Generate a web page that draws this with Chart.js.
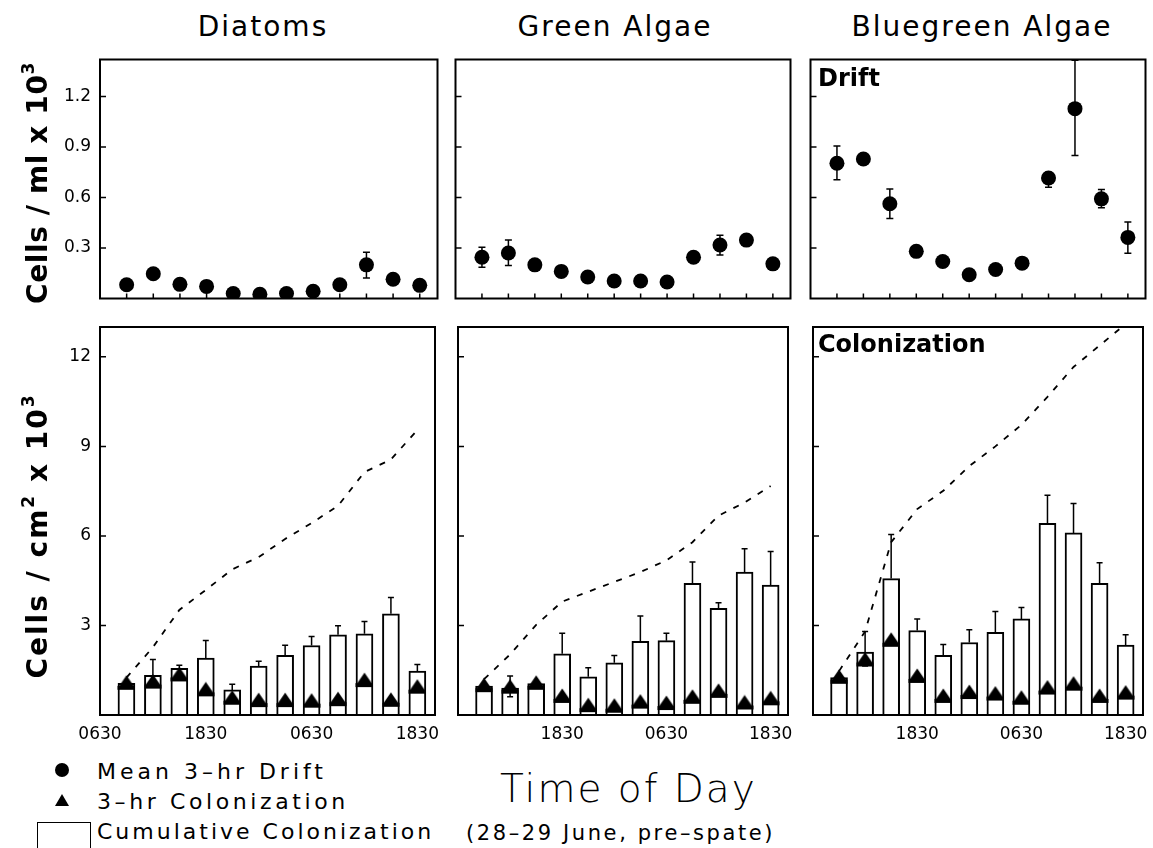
<!DOCTYPE html>
<html><head><meta charset="utf-8">
<script src="https://cdn.jsdelivr.net/npm/chart.js@4.4.1/dist/chart.umd.min.js"></script>
<style>
html,body{margin:0;padding:0;background:#fff;}
body{width:1153px;height:848px;position:relative;overflow:hidden;font-family:"DejaVu Sans",sans-serif;color:#000;}
canvas{position:absolute;}
.t{position:absolute;white-space:nowrap;line-height:1;}
.title{font-size:28px;letter-spacing:2px;width:300px;text-align:center;}
.ytitle{font-size:28px;font-weight:bold;transform:translate(-50%,-50%) rotate(-90deg);}
.ytitle sup{font-size:17px;vertical-align:0;position:relative;top:-13px;}
.leg{font-size:22px;letter-spacing:3px;}
</style></head><body>

<canvas id="c0"></canvas><canvas id="c1"></canvas><canvas id="c2"></canvas>
<canvas id="c3"></canvas><canvas id="c4"></canvas><canvas id="c5"></canvas>

<div class="t title" style="left:113px;top:13px;">Diatoms</div>
<div class="t title" style="left:465px;top:13px;">Green Algae</div>
<div class="t title" style="left:832px;top:13px;">Bluegreen Algae</div>
<div class="t" style="left:818px;top:66px;font-size:24px;font-weight:bold;">Drift</div>
<div class="t" style="left:818px;top:332px;font-size:24px;font-weight:bold;">Colonization</div>
<div class="t ytitle" style="left:38px;top:183px;letter-spacing:0.6px;">Cells / ml x 10<sup>3</sup></div>
<div class="t ytitle" style="left:38px;top:536px;letter-spacing:2px;">Cells / cm<sup>2</sup> x 10<sup>3</sup></div>
<div class="t" style="left:500px;top:769px;font-size:39px;font-weight:300;letter-spacing:2px;">Time of Day</div>
<div class="t" style="left:466px;top:823px;font-size:21px;letter-spacing:2.6px;">(28–29 June, pre–spate)</div>

<div style="position:absolute;left:55px;top:763px;width:14px;height:14px;border-radius:50%;background:#000;"></div>
<div style="position:absolute;left:55px;top:794px;width:14px;height:12px;background:#000;clip-path:polygon(50% 0,100% 100%,0 100%);"></div>
<div style="position:absolute;left:37px;top:822px;width:54px;height:40px;border:1.5px solid #000;box-sizing:border-box;"></div>
<div class="t leg" style="left:97px;top:761px;letter-spacing:4px;">Mean 3–hr Drift</div>
<div class="t leg" style="left:97px;top:791px;letter-spacing:3.6px;">3–hr Colonization</div>
<div class="t leg" style="left:97px;top:821px;">Cumulative Colonization</div>

<script>
// ---------- data ----------
const hours = [3, 6, 9, 12, 15, 18, 21, 24, 27, 30, 33, 36];
const xTickHours = [0, 12, 24, 36];
const xTickLabels = ['0630', '1830', '0630', '1830'];
const driftTicks = [0.3, 0.6, 0.9, 1.2];
const driftTickLabels = ['0.3', '0.6', '0.9', '1.2'];
const colonTicks = [3, 6, 9, 12];
const colonTickLabels = ['3', '6', '9', '12'];

// Mean 3-hr drift (cells/ml x 10^3)
const diatomDrift   = [0.082, 0.147, 0.084, 0.072, 0.030, 0.025, 0.030, 0.043, 0.082, 0.200, 0.114, 0.078];
const diatomDriftHi = [null, null, null, null, null, null, null, null, null, 0.275, null, null];
const diatomDriftLo = [null, null, null, null, null, null, null, null, null, 0.122, null, null];
const greenDrift    = [0.245, 0.270, 0.200, 0.161, 0.128, 0.104, 0.104, 0.098, 0.245, 0.318, 0.347, 0.206];
const greenDriftHi  = [0.304, 0.347, null, null, null, null, null, null, null, 0.376, null, null];
const greenDriftLo  = [0.186, 0.196, null, null, null, null, null, null, null, 0.259, null, null];
const blueDrift     = [0.804, 0.829, 0.563, 0.280, 0.220, 0.141, 0.172, 0.210, 0.716, 1.128, 0.592, 0.363];
const blueDriftHi   = [0.906, null, 0.651, null, null, null, null, null, 0.749, 1.416, 0.647, 0.455];
const blueDriftLo   = [0.706, null, 0.475, null, null, null, null, null, 0.661, 0.849, 0.539, 0.269];

// Colonization bars (cells/cm2 x 10^3)
const diatomBar   = [1.06, 1.33, 1.56, 1.91, 0.84, 1.64, 2.00, 2.33, 2.69, 2.72, 3.39, 1.47];
const diatomBarHi = [null, 1.86, 1.67, 2.50, 1.03, 1.80, 2.34, 2.63, 2.99, 3.13, 3.94, 1.69];
const diatomBarLo = [null, null, null, null, null, null, null, null, null, null, null, null];
const greenBar    = [0.97, 0.90, 1.05, 2.05, 1.28, 1.75, 2.47, 2.49, 4.41, 3.57, 4.79, 4.35];
const greenBarHi  = [null, 1.31, null, 2.74, 1.58, 1.99, 3.32, 2.74, 5.13, 3.76, 5.57, 5.48];
const greenBarLo  = [null, 0.61, null, null, null, null, null, null, null, null, null, null];
const blueBar     = [1.25, 2.11, 4.57, 2.83, 2.00, 2.43, 2.77, 3.22, 6.42, 6.10, 4.41, 2.34];
const blueBarHi   = [null, 2.80, 6.05, 3.22, 2.36, 2.86, 3.47, 3.60, 7.36, 7.09, 5.10, 2.69];
const blueBarLo   = [null, 1.64, null, null, null, null, null, null, null, null, null, null];

// 3-hr colonization (triangles)
const diatomTri = [1.08, 1.12, 1.36, 0.86, 0.58, 0.50, 0.50, 0.48, 0.53, 1.17, 0.51, 0.95];
const greenTri  = [1.00, 0.95, 1.08, 0.64, 0.33, 0.31, 0.45, 0.40, 0.61, 0.81, 0.42, 0.56];
const blueTri   = [1.28, 1.86, 2.52, 1.31, 0.64, 0.77, 0.72, 0.58, 0.92, 1.05, 0.64, 0.75];

// cumulative colonization (dashed line)
const diatomCum = [1.25, 2.27, 3.52, 4.19, 4.88, 5.29, 5.90, 6.43, 7.01, 8.14, 8.56, 9.55];
const greenCum  = [1.20, 2.03, 3.02, 3.80, 4.13, 4.46, 4.79, 5.18, 5.79, 6.68, 7.12, 7.67];
const blueCum   = [1.47, 2.80, 5.79, 6.90, 7.51, 8.34, 9.00, 9.72, 10.66, 11.66, 12.38, 13.10];

// ---------- layout ----------
const cols = [[100, 439], [454, 792], [809, 1147]];
const rows = [[58, 300], [323, 715]];

const pts = arr => arr.map((v, i) => ({x: hours[i], y: v}));

// triangle marker with base band
const tri = document.createElement('canvas');
tri.width = 18; tri.height = 16;
(function(){
  const g = tri.getContext('2d');
  g.fillStyle = '#000';
  g.beginPath(); g.moveTo(9, 0.5); g.lineTo(16.5, 11.5); g.lineTo(1.5, 11.5); g.closePath(); g.fill();
  g.fillRect(0.5, 11, 17, 4);
})();

const deco = {
  id: 'deco',
  afterDatasetsDraw(chart, args, o) {
    const ctx = chart.ctx, xs = chart.scales.x, ys = chart.scales.y;
    ctx.save(); ctx.strokeStyle = '#000'; ctx.lineWidth = 1.5;
    (o.err || []).forEach(e => {
      e.base.forEach((v, i) => {
        const x = xs.getPixelForValue(hours[i]);
        const y0 = ys.getPixelForValue(v);
        [e.hi[i], e.lo[i]].forEach(t => {
          if (t == null) return;
          const y1 = ys.getPixelForValue(t);
          ctx.beginPath();
          ctx.moveTo(x, y0); ctx.lineTo(x, y1);
          ctx.moveTo(x - e.cap, y1); ctx.lineTo(x + e.cap, y1);
          ctx.stroke();
        });
      });
    });
    ctx.restore();
  },
  afterDraw(chart, args, o) {
    const ctx = chart.ctx, a = chart.chartArea, xs = chart.scales.x, ys = chart.scales.y;
    ctx.save(); ctx.strokeStyle = '#000'; ctx.lineWidth = 2;
    ctx.strokeRect(a.left, a.top, a.right - a.left, a.bottom - a.top);
    ctx.lineWidth = 1.5; ctx.beginPath();
    (o.yTicks || []).forEach(v => { const y = ys.getPixelForValue(v); ctx.moveTo(a.left, y); ctx.lineTo(a.left + 6, y); });
    (o.xTicks || []).forEach(v => { const x = xs.getPixelForValue(v); ctx.moveTo(x, a.bottom); ctx.lineTo(x, a.bottom - 5); });
    ctx.stroke(); ctx.restore();
  }
};

function noPad(s) { s.paddingTop = 0; s.paddingBottom = 0; s.paddingLeft = 0; s.paddingRight = 0; }

function makePanel(id, col, row, datasets, err) {
  const [L, R] = cols[col], [T, B] = rows[row];
  const padL = col === 0 ? 60 : 6, padR = 6, padT = 6, padB = row === 1 ? 36 : 6;
  const cv = document.getElementById(id);
  cv.width = (R - L) + padL + padR; cv.height = (B - T) + padT + padB;
  cv.style.left = (L - padL) + 'px'; cv.style.top = (T - padT) + 'px';
  const yVals = row === 0 ? driftTicks : colonTicks;
  const yLabs = row === 0 ? driftTickLabels : colonTickLabels;
  const xVals = col === 0 ? xTickHours : xTickHours.slice(1);
  const xLabs = col === 0 ? xTickLabels : xTickLabels.slice(1);
  const font = {family: 'DejaVu Sans', size: 17};
  new Chart(cv, {
    type: row === 0 ? 'scatter' : 'bar',
    data: {datasets},
    plugins: [deco],
    options: {
      responsive: false, animation: false, devicePixelRatio: 1,
      layout: {padding: {top: padT, right: padR, left: 0, bottom: 0}},
      plugins: {legend: {display: false}, tooltip: {enabled: false},
        deco: {err, yTicks: yVals, xTicks: row === 0 ? hours : []}},
      scales: {
        x: {type: 'linear', min: 0, max: 38, offset: false,
          grid: {display: false, drawTicks: false, offset: false}, border: {display: false},
          afterBuildTicks: s => { s.ticks = xVals.map(v => ({value: v})); },
          afterFit: s => { s.height = padB; noPad(s); },
          ticks: {display: row === 1, font, color: '#000', padding: 9, maxRotation: 0, autoSkip: false,
            callback: v => xLabs[xVals.indexOf(v)]}},
        y: {type: 'linear', min: 0, max: row === 0 ? 1.42 : 13,
          grid: {display: false, drawTicks: false}, border: {display: false},
          afterBuildTicks: s => { s.ticks = yVals.map(v => ({value: v})); },
          afterFit: s => { s.width = padL; noPad(s); },
          ticks: {display: col === 0, font, color: '#000', padding: 9,
            callback: v => yLabs[yVals.indexOf(v)]}}
      }
    }
  });
}

function driftSet(vals) {
  return [{data: pts(vals), pointRadius: 7.5, pointBackgroundColor: '#000', pointBorderWidth: 0, showLine: false}];
}
function colonSets(bar, triv, cum) {
  return [
    {type: 'line', data: pts(cum), borderColor: '#000', borderWidth: 1.8, borderDash: [6, 8],
     pointRadius: 0, fill: false, tension: 0, order: 1},
    {type: 'line', data: pts(triv), showLine: false, pointStyle: tri, pointRadius: 9, order: 2},
    {type: 'bar', data: pts(bar), backgroundColor: '#fff', borderColor: '#000', borderWidth: 2,
     barThickness: 17, order: 3}
  ];
}

makePanel('c0', 0, 0, driftSet(diatomDrift), [{base: diatomDrift, hi: diatomDriftHi, lo: diatomDriftLo, cap: 3.5}]);
makePanel('c1', 1, 0, driftSet(greenDrift), [{base: greenDrift, hi: greenDriftHi, lo: greenDriftLo, cap: 3.5}]);
makePanel('c2', 2, 0, driftSet(blueDrift), [{base: blueDrift, hi: blueDriftHi, lo: blueDriftLo, cap: 3.5}]);
makePanel('c3', 0, 1, colonSets(diatomBar, diatomTri, diatomCum), [{base: diatomBar, hi: diatomBarHi, lo: diatomBarLo, cap: 3}]);
makePanel('c4', 1, 1, colonSets(greenBar, greenTri, greenCum), [{base: greenBar, hi: greenBarHi, lo: greenBarLo, cap: 3}]);
makePanel('c5', 2, 1, colonSets(blueBar, blueTri, blueCum), [{base: blueBar, hi: blueBarHi, lo: blueBarLo, cap: 3}]);
</script>
</body></html>
